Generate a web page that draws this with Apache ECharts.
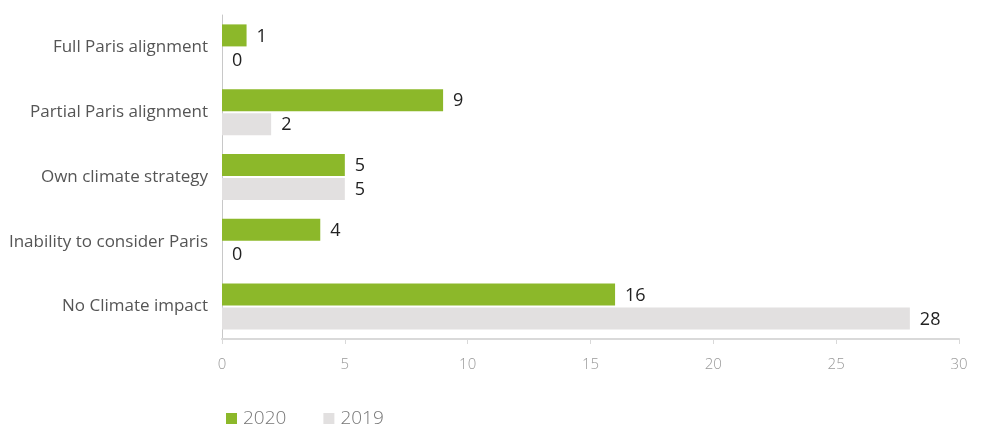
<!DOCTYPE html>
<html><head><meta charset="utf-8">
<script src="https://cdn.jsdelivr.net/npm/echarts@6/dist/echarts.min.js"></script>
<style>html,body{margin:0;padding:0;background:#fff}#c{width:982px;height:425px}</style>
</head><body><div id="c"></div>
<script>
const categories = ["Full Paris alignment","Partial Paris alignment","Own climate strategy","Inability to consider Paris","No Climate impact"];
const values2020 = [1, 9, 5, 4, 16];
const values2019 = [0, 2, 5, 0, 28];
const xTicks = [0, 5, 10, 15, 20, 25, 30];

const chart = echarts.init(document.getElementById('c'));
const F = '"Open Sans", sans-serif';
chart.setOption({
  animation: false,
  grid: {left: 222, right: 23, top: 15, bottom: 86},
  legend: {
    top: 404, left: 221, itemWidth: 11, itemHeight: 11, itemGap: 37, icon: 'rect',
    textStyle: {fontFamily: F, fontSize: 19, color: '#777', fontWeight: 300, padding: [0,0,0,1]},
    data: ['2020', '2019']
  },
  xAxis: {
    type: 'value', min: xTicks[0], max: xTicks[xTicks.length-1], interval: 5,
    axisLine: {show: true, lineStyle: {color: '#d9d9d9', width: 2}},
    axisTick: {show: true, length: 5, lineStyle: {color: '#d9d9d9'}},
    splitLine: {show: false},
    axisLabel: {fontFamily: F, fontSize: 15, color: '#999', fontWeight: 300, margin: 18}
  },
  yAxis: {
    type: 'category', inverse: true, data: categories,
    axisLine: {show: true, lineStyle: {color: '#c8c8c8', width: 1}},
    axisTick: {show: false},
    axisLabel: {fontFamily: F, fontSize: 17, color: '#555', margin: 14}
  },
  series: [
    {name: '2020', type: 'bar', data: values2020, barCategoryGap: '29%', barGap: '9%',
     itemStyle: {color: '#8cb82a'},
     label: {show: true, position: 'right', distance: 10, fontFamily: F, fontSize: 18, color: '#222', offset: [0, 1]}},
    {name: '2019', type: 'bar', data: values2019, barCategoryGap: '29%', barGap: '9%',
     itemStyle: {color: '#e2e0e0'},
     label: {show: true, position: 'right', distance: 10, fontFamily: F, fontSize: 18, color: '#222', offset: [0, 1]}}
  ]
});
</script></body></html>
